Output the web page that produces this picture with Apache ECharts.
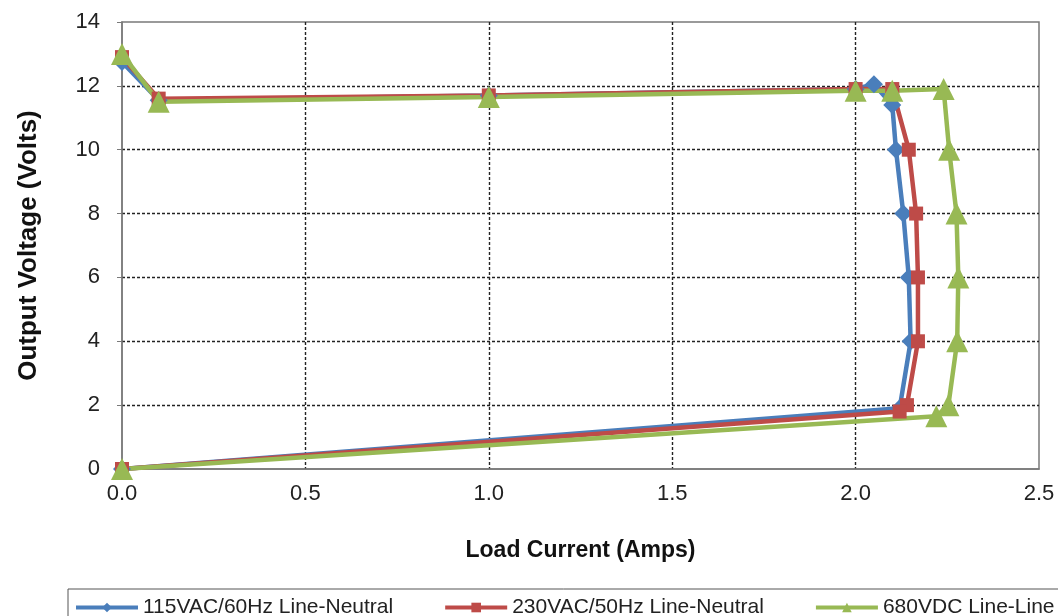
<!DOCTYPE html>
<html>
<head>
<meta charset="utf-8">
<script src="https://cdn.jsdelivr.net/npm/echarts@6/dist/echarts.min.js"></script>
<style>
  html, body { margin: 0; padding: 0; background: #fff; }
  #chart { width: 1058px; height: 616px; }
</style>
</head>
<body>
<div id="chart"></div>
<script>
// load current (A) / output voltage (V)
const seriesNames = ['115VAC/60Hz Line-Neutral', '230VAC/50Hz Line-Neutral', '680VDC Line-Line']

const currentAc115 = [0, 0.1, 1.0, 2.0, 2.05, 2.1, 2.11, 2.13, 2.145, 2.15, 2.12, 0]
const voltageAc115 = [12.75, 11.55, 11.7, 11.9, 12.05, 11.4, 10.0, 8.0, 6.0, 4.0, 1.9, 0]

const currentAc230 = [0, 0.1, 1.0, 2.0, 2.1, 2.145, 2.165, 2.17, 2.17, 2.14, 2.12, 0]
const voltageAc230 = [12.9, 11.6, 11.7, 11.9, 11.9, 10.0, 8.0, 6.0, 4.0, 2.0, 1.8, 0]

const currentDc680 = [0, 0.1, 1.0, 2.0, 2.1, 2.24, 2.255, 2.275, 2.28, 2.277, 2.253, 2.22, 0]
const voltageDc680 = [13.0, 11.5, 11.65, 11.85, 11.85, 11.9, 10.0, 8.0, 6.0, 4.0, 2.0, 1.65, 0]

const xTicks = [0, 0.5, 1.0, 1.5, 2.0, 2.5]
const yTicks = [0, 2, 4, 6, 8, 10, 12, 14]

const pair = (xs, ys) => xs.map((x, i) => [x, ys[i]])

const chart = echarts.init(document.getElementById('chart'))

const gridLine = { show: true, showMaxLine: false, showMinLine: false, lineStyle: { color: '#222', width: 1.4, type: [3, 2] } }
const axisLine = { show: true, lineStyle: { color: '#7a7a7a', width: 1.5 } }

const makeSeries = (name, data, color, symbol, size) => ({
  name,
  type: 'line',
  data,
  symbol,
  symbolSize: size,
  showAllSymbol: true,
  lineStyle: { color, width: 4.5 },
  itemStyle: { color },
  emphasis: { disabled: true }
})

chart.setOption({
  animation: false,
  textStyle: { fontFamily: 'Liberation Sans, Arial, sans-serif' },
  grid: { left: 122, right: 19, top: 22, bottom: 147, show: true, borderColor: '#7a7a7a', borderWidth: 1.5 },
  legend: {
    data: seriesNames,
    left: 68,
    top: 589,
    width: 1100,
    padding: [8, 6],
    itemGap: 50,
    itemWidth: 62,
    itemHeight: 12,
    borderColor: '#555',
    borderWidth: 1,
    lineStyle: { width: 4 },
    textStyle: { fontSize: 21, color: '#222' }
  },
  xAxis: {
    type: 'value',
    min: xTicks[0],
    max: xTicks[xTicks.length - 1],
    interval: 0.5,
    name: 'Load Current (Amps)',
    nameLocation: 'middle',
    nameGap: 70,
    nameTextStyle: { fontSize: 23, fontWeight: 'bold', color: '#111' },
    axisLine,
    axisTick: { show: false },
    axisLabel: { fontSize: 22, color: '#222', margin: 14, formatter: v => v.toFixed(1) },
    splitLine: gridLine
  },
  yAxis: {
    type: 'value',
    min: yTicks[0],
    max: yTicks[yTicks.length - 1],
    interval: 2,
    name: 'Output Voltage (Volts)',
    nameLocation: 'middle',
    nameGap: 80,
    nameTextStyle: { fontSize: 26, fontWeight: 'bold', color: '#111' },
    axisLine,
    axisTick: { show: true, length: 5, lineStyle: { color: '#7a7a7a' } },
    axisLabel: { fontSize: 22, color: '#222', margin: 22 },
    splitLine: gridLine
  },
  series: [
    makeSeries(seriesNames[0], pair(currentAc115, voltageAc115), '#4a7ebb', 'diamond', 18),
    makeSeries(seriesNames[1], pair(currentAc230, voltageAc230), '#be4b48', 'rect', 14),
    makeSeries(seriesNames[2], pair(currentDc680, voltageDc680), '#98b954', 'triangle', 22)
  ]
})

window.addEventListener('resize', () => chart.resize())
</script>
</body>
</html>
